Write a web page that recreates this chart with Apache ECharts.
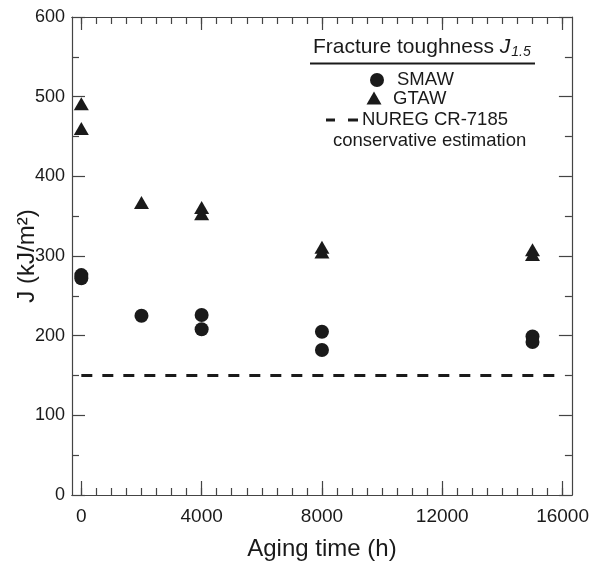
<!DOCTYPE html>
<html>
<head>
<meta charset="utf-8">
<script src="https://cdn.jsdelivr.net/npm/echarts@6/dist/echarts.min.js"></script>
<style>
  html, body { margin: 0; padding: 0; background: #fff; }
  #chart { width: 592px; height: 566px; }
</style>
</head>
<body>
<div id="chart"></div>
<script>
// Aging time (h) and fracture toughness J (kJ/m2) for the two weld types
var smawX = [0, 0, 2000, 4000, 4000, 8000, 8000, 15000, 15000];
var smawY = [276, 272, 225, 226, 208, 205, 182, 199, 192];
var gtawX = [0, 0, 2000, 4000, 4000, 8000, 8000, 15000, 15000];
var gtawY = [491, 460, 367, 361, 353, 311, 305, 308, 302];
// Conservative lower bound (NUREG CR-7185)
var nuregX = [0, 16000];
var nuregY = [150, 150];

var xMajorTicks = [0, 4000, 8000, 12000, 16000];
var xMinorTicks = [];
for (var t = 0; t <= 16000; t += 500) xMinorTicks.push(t);

function pairs(xs, ys) {
  return xs.map(function (x, i) { return [x, ys[i]]; });
}

var FONT = 'Liberation Sans, Arial, Helvetica, sans-serif';
var INK = '#1a1a1a';
var AXIS = '#444';

function plain(v) { return String(v); }

function xAxisDef(pos, ticks, len, labels) {
  return {
    type: 'value', position: pos, min: -310, max: 16310,
    axisLine: { show: true, onZero: false, lineStyle: { color: AXIS, width: 1.2 } },
    axisTick: { show: true, inside: true, length: len, customValues: ticks,
                lineStyle: { color: AXIS, width: 1.2 } },
    axisLabel: labels ? { show: true, customValues: xMajorTicks, formatter: plain, color: INK,
                          fontFamily: FONT, fontSize: 19, margin: 12 }
                      : { show: false },
    splitLine: { show: false }
  };
}

function yAxisDef(pos, labels) {
  return {
    type: 'value', position: pos, min: 0, max: 600, interval: 100,
    axisLine: { show: true, onZero: false, lineStyle: { color: AXIS, width: 1.2 } },
    axisTick: { show: true, inside: true, length: 13, lineStyle: { color: AXIS, width: 1.2 } },
    minorTick: { show: true, splitNumber: 2, length: 7, lineStyle: { color: AXIS, width: 1.2 } },
    axisLabel: labels ? { show: true, formatter: plain, color: INK, fontFamily: FONT,
                          fontSize: 18, margin: 7 }
                      : { show: false },
    splitLine: { show: false }
  };
}

var chart = echarts.init(document.getElementById('chart'), null, { renderer: 'canvas' });

var xBottom = xAxisDef('bottom', xMajorTicks, 14, true);
xBottom.name = 'Aging time (h)';
xBottom.nameLocation = 'middle';
xBottom.nameGap = 42;
xBottom.nameMoveOverlap = false;
xBottom.nameTextStyle = { color: INK, fontFamily: FONT, fontSize: 24 };

var yLeft = yAxisDef('left', true);
yLeft.name = 'J (kJ/m\u00B2)';
yLeft.nameLocation = 'middle';
yLeft.nameGap = 33;
yLeft.nameMoveOverlap = false;
yLeft.nameTextStyle = { color: INK, fontFamily: FONT, fontSize: 24 };

chart.setOption({
  animation: false,
  backgroundColor: '#fff',
  grid: { left: 72, right: 18, top: 17, bottom: 67, containLabel: false },
  xAxis: [
    xBottom,
    xAxisDef('bottom', xMinorTicks, 7, false),
    xAxisDef('top', xMajorTicks, 13, false),
    xAxisDef('top', xMinorTicks, 7, false)
  ],
  yAxis: [yLeft, yAxisDef('right', false)],
  series: [
    {
      name: 'NUREG CR-7185', type: 'line', xAxisIndex: 0, yAxisIndex: 0,
      data: pairs(nuregX, nuregY), symbol: 'none',
      lineStyle: { color: INK, width: 3, type: [11, 10] }, z: 1
    },
    {
      name: 'SMAW', type: 'scatter', xAxisIndex: 0, yAxisIndex: 0,
      data: pairs(smawX, smawY), symbol: 'circle', symbolSize: 14,
      itemStyle: { color: INK, opacity: 1 }, z: 3
    },
    {
      name: 'GTAW', type: 'scatter', xAxisIndex: 0, yAxisIndex: 0,
      data: pairs(gtawX, gtawY), symbol: 'triangle', symbolSize: [15, 13],
      itemStyle: { color: INK, opacity: 1 }, z: 3
    }
  ],
  graphic: [
    {
      type: 'text', left: 313, top: 35,
      style: {
        text: '{a|Fracture toughness }{j|J}{s|1.5}',
        rich: {
          a: { fontFamily: FONT, fontSize: 21, fill: INK, lineHeight: 24 },
          j: { fontFamily: FONT, fontSize: 21, fontStyle: 'italic', fill: INK, lineHeight: 24 },
          s: { fontFamily: FONT, fontSize: 14, fontStyle: 'italic', fill: INK,
               lineHeight: 24, padding: [10, 0, 0, 1] }
        }
      }
    },
    { type: 'line', shape: { x1: 310, y1: 63.5, x2: 535, y2: 63.5 },
      style: { stroke: INK, lineWidth: 2 } },
    { type: 'circle', shape: { cx: 377, cy: 80, r: 7 }, style: { fill: INK } },
    { type: 'text', x: 397, y: 80,
      style: { text: 'SMAW', fontFamily: FONT, fontSize: 18.5, fill: INK, verticalAlign: 'middle' } },
    { type: 'polygon', shape: { points: [[374, 91.5], [381.5, 104.5], [366.5, 104.5]] },
      style: { fill: INK } },
    { type: 'text', x: 393, y: 99,
      style: { text: 'GTAW', fontFamily: FONT, fontSize: 18.5, fill: INK, verticalAlign: 'middle' } },
    { type: 'line', shape: { x1: 326, y1: 120, x2: 335, y2: 120 },
      style: { stroke: INK, lineWidth: 3 } },
    { type: 'line', shape: { x1: 348, y1: 120, x2: 358, y2: 120 },
      style: { stroke: INK, lineWidth: 3 } },
    { type: 'text', x: 362, y: 120,
      style: { text: 'NUREG CR-7185', fontFamily: FONT, fontSize: 18.5, fill: INK, verticalAlign: 'middle' } },
    { type: 'text', x: 333, y: 141,
      style: { text: 'conservative estimation', fontFamily: FONT, fontSize: 18.5, fill: INK, verticalAlign: 'middle' } }
  ]
});
</script>
</body>
</html>
